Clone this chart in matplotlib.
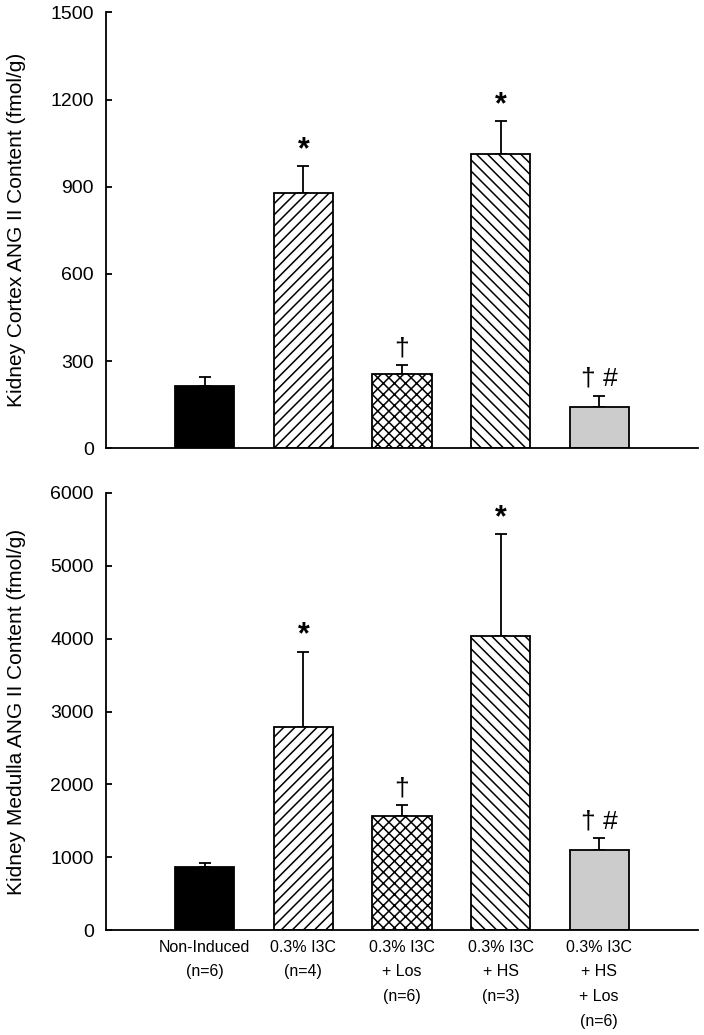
import matplotlib.pyplot as plt
import numpy as np

plt.rcParams['font.family'] = ['Liberation Sans', 'DejaVu Sans']
plt.rcParams['hatch.linewidth'] = 1.1

groups = ['Non-Induced\n(n=6)', '0.3% I3C\n(n=4)', '0.3% I3C\n+ Los\n(n=6)',
          '0.3% I3C\n+ HS\n(n=3)', '0.3% I3C\n+ HS\n+ Los\n(n=6)']

cortex_mean = [215, 880, 255, 1012, 140]
cortex_se = [30, 90, 30, 113, 40]
medulla_mean = [860, 2790, 1570, 4040, 1100]
medulla_se = [55, 1030, 140, 1390, 160]

marks = ['', '*', '\u2020', '*', '\u2020 #']

colors = ['black', 'white', 'white', 'white', '#cccccc']
hatches = [None, '///', 'xxx', '\\\\\\', None]


def draw_panel(ax, means, ses, ymax, step, ylabel):
    x = np.arange(len(means))
    for i in range(len(means)):
        ax.bar(x[i], means[i], width=0.6, color=colors[i], edgecolor='black',
               linewidth=1.3, hatch=hatches[i], zorder=2)
        ax.errorbar(x[i], means[i], yerr=[[0], [ses[i]]], fmt='none',
                    ecolor='black', elinewidth=1.3, capsize=4, capthick=1.3, zorder=1)
        if marks[i] == '*':
            ax.text(x[i], means[i] + ses[i] + ymax * 0.003, marks[i],
                    ha='center', va='bottom', fontsize=22, fontweight='bold')
        elif marks[i]:
            ax.text(x[i], means[i] + ses[i] + ymax * 0.012, marks[i],
                    ha='center', va='bottom', fontsize=19)
    ax.set_xlim(-1, 5)
    ax.set_ylim(0, ymax)
    ax.set_yticks(np.arange(0, ymax + 1, step))
    ax.spines['top'].set_visible(False)
    ax.spines['right'].set_visible(False)
    ax.spines['left'].set_linewidth(1.3)
    ax.spines['bottom'].set_linewidth(1.3)
    ax.tick_params(axis='y', direction='in', length=4, width=1.3, labelsize=14, pad=9)
    ax.tick_params(axis='x', length=0)
    ax.set_ylabel(ylabel, fontsize=15)
    ax.yaxis.set_label_coords(-0.135, 0.5)


fig = plt.figure(figsize=(7.04, 10.35), dpi=100)
ax1 = fig.add_axes([0.151, 0.567, 0.84, 0.421])
ax2 = fig.add_axes([0.151, 0.1014, 0.84, 0.4223])

draw_panel(ax1, cortex_mean, cortex_se, 1500, 300, 'Kidney Cortex ANG II Content (fmol/g)')
ax1.set_xticks([])

draw_panel(ax2, medulla_mean, medulla_se, 6000, 1000, 'Kidney Medulla ANG II Content (fmol/g)')
ax2.set_xticks(np.arange(len(groups)))
ax2.set_xticklabels(groups, fontsize=11.5, linespacing=1.8, va='top')
ax2.tick_params(axis='x', pad=7)

fig.savefig('out.png', dpi=100)
